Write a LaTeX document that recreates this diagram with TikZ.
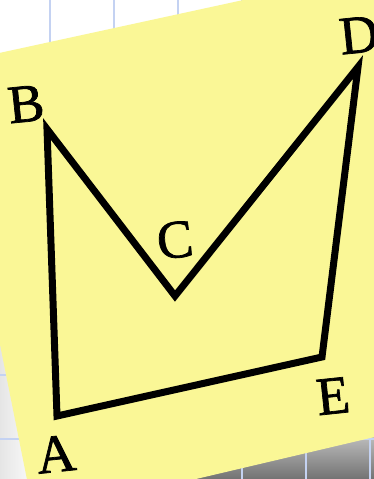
\documentclass[tikz,border=0pt]{standalone}
\usepackage{fontspec}
\setmainfont{Liberation Serif}
\newfontfamily\labelfont{Liberation Serif}[FakeBold=1.3]
\definecolor{notecolor}{RGB}{250,247,150}
\definecolor{gridcolor}{RGB}{196,210,242}
\begin{document}
\begin{tikzpicture}[
    x=1pt, y=-1pt,
    line width=7pt,
    line join=miter,
    vlabel/.style={font=\labelfont\fontsize{54}{54}\selectfont, inner sep=0pt, rotate=6}
  ]
  \useasboundingbox (0,0) rectangle (374,479);
  \clip (0,0) rectangle (374,479);

  % 背景（方眼紙と影）
  \fill[white] (0,0) rectangle (374,479);
  \shade[top color=black!12, bottom color=black!55] (140,479) -- (374,415) -- (374,479) -- cycle;
  \shade[left color=black!10, right color=white] (0,330) rectangle (40,479);
  \foreach \x in {50,114,...,370} {
    \draw[gridcolor, line width=1.2pt] (\x,0) -- (\x,479);
  }
  \foreach \y in {55,119,...,439} {
    \draw[gridcolor, line width=1.2pt] (0,\y) -- (374,\y);
  }

  % 付箋
  \fill[notecolor] (-56,65) -- (400,-34) -- (400,431) -- (34.5,517) -- cycle;

  % 頂点
  \coordinate (A) at (57,416);
  \coordinate (B) at (47,129);
  \coordinate (C) at (175,296);
  \coordinate (D) at (358,67);
  \coordinate (E) at (322,357);

  % 図形
  \draw[black] (A) -- (B) -- (C) -- (D) -- (E) -- cycle;

  % ラベル
  \node[vlabel] (lA) at (56,454) {A};
  \node[vlabel] (lB) at (26,104) {B};
  \node[vlabel] (lC) at (175,240) {C};
  \node[vlabel] (lD) at (359,35) {D};
  \node[vlabel] (lE) at (333,396) {E};
\end{tikzpicture}
\end{document}
